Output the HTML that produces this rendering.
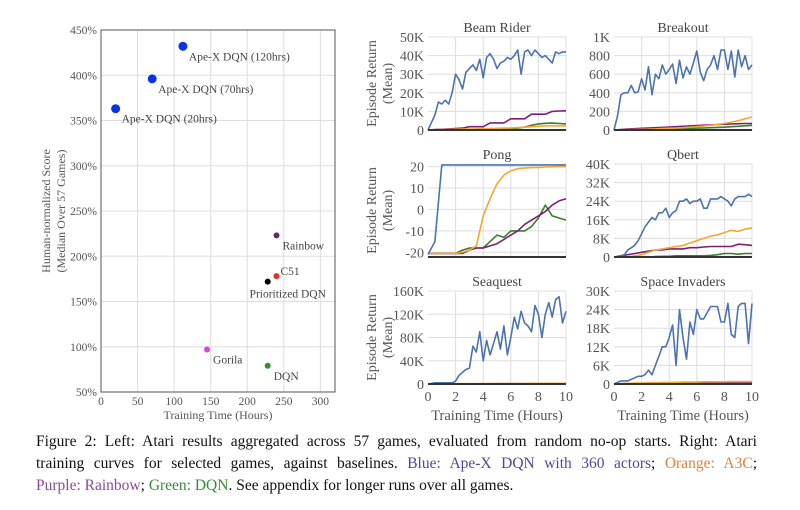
<!DOCTYPE html>
<html><head><meta charset="utf-8">
<style>
body{margin:0;background:#fff;width:800px;height:510px;overflow:hidden;font-family:"Liberation Serif",serif;}
#fig{position:absolute;left:0;top:0}
#cap{position:absolute;left:36px;top:431px;width:721px;font-size:15.5px;line-height:22px;color:#111;}
#cap div{text-align:justify;text-align-last:justify;white-space:nowrap;}
#cap div.last{text-align-last:left;}
</style></head><body>
<svg id="fig" width="800" height="430"></svg>
<div id="cap">
<div style="white-space:normal">Figure 2: Left: Atari results aggregated across 57 games, evaluated from random no-op starts. Right: Atari</div>
<div style="white-space:normal">training curves for selected games, against baselines. <span style="color:#4a4aa0">Blue: Ape-X DQN with 360 actors</span>; <span style="color:#e08040">Orange: A3C</span>;</div>
<div class="last"><span style="color:#8a4a9a">Purple: Rainbow</span>; <span style="color:#3a8a3a">Green: DQN</span>. See appendix for longer runs over all games.</div>
</div>
<script>
// ---- scatter data ----
const scatterNames=["Ape-X DQN (120hrs)","Ape-X DQN (70hrs)","Ape-X DQN (20hrs)","Rainbow","C51","Prioritized DQN","Gorila","DQN"];
const scatterHours=[112,70,20,240,240,228,145,228];
const scatterScores=[432,396,363,223,178,172,97,79];
const scatterColors=["#0a32e8","#0a32e8","#0a32e8","#6a2a6a","#e03030","#000","#e040e0","#3a8a3a"];
const xTicksL=[0,50,100,150,200,250,300];
const yTicksL=[50,100,150,200,250,300,350,400,450];
// ---- training curves data ----
const beamApex=[0,4,8,15,14,16,14,20,30,27,22,31,33,35,32,38,28,39,41,38,33,36,37,39,38,40,43,30,42,43,40,43,41,39,40,38,36,42,41,42,42];
const beamA3C=[0,0.1,0.2,0.3,0.4,0.5,0.5,0.6,0.7,0.8,0.9,1,1.1,1.3,1.5,1.7,2,2.2,2.3,2.2,2.2];
const beamRainbow=[0,0.2,0.4,0.6,0.8,1,1.8,1.8,1.8,3.8,3.8,3.8,6,6,6,8.5,8.5,8.5,10,10.2,10.3];
const beamDQN=[0,0,0,0,0,0,0.1,0.2,0.3,0.4,0.5,0.6,0.8,1,1.5,2.5,3.3,3.6,3.7,3.5,3.3];
const brkApex=[0,150,380,400,400,480,400,410,550,430,680,380,600,550,700,600,650,710,500,750,560,680,600,720,850,620,530,650,700,800,650,860,860,650,850,570,860,680,800,650,700];
const brkA3C=[0,2,3,5,7,9,12,15,18,22,25,30,35,42,50,60,70,85,100,120,140];
const brkRainbow=[0,5,10,14,18,22,25,28,32,36,40,44,48,52,55,58,62,65,68,70,70];
const brkDQN=[0,1,2,3,5,6,8,10,12,14,16,18,20,22,25,28,30,35,40,45,50];
const pongApex=[-21,-15,20.8,20.8,20.8,20.8,20.8,20.8,20.8,20.8,20.8,20.8,20.8,20.8,20.8,20.8,20.8,20.8,20.8,20.8,20.8];
const pongA3C=[-20.5,-20.5,-20.5,-20.5,-20.5,-20,-19,-17,-3,5,12,16,18,19,19.3,19.5,19.6,19.8,19.9,20,20];
const pongRainbow=[-20.5,-20.5,-20.5,-20.5,-20.5,-20.5,-19,-18,-18,-17,-16,-14,-12,-10,-7,-5,-3,-1,2,4,5];
const pongDQN=[-20.5,-20.5,-20.5,-20.5,-20.5,-19,-18,-18,-18,-15,-12,-13,-10,-10,-10,-8,-4,2,-3,-4,-5];
const qbApex=[0,0,0.5,1,3,4,5,7,10,13,15,17,16,19,19,21,17,19,20,24,24,25,23,24,24,25,21,21,25,25,25,26,25,24,22,25,26,26,26,27,26];
const qbA3C=[0,0,0,0.5,1,2,3,3.5,4,4.5,5,6,7,8,9,9.5,10.5,11.5,11,12,12.5];
const qbRainbow=[0,0.5,1,1.5,2,2.5,3,3,3.5,3.5,3.5,4,4,4.3,4.5,4.5,4.5,4.5,5.5,5.3,5];
const qbDQN=[0,0,0,0,0,0,0.2,0.3,0.3,0.5,0.5,0.5,0.5,0.5,0.7,1,1.5,1.5,1.2,1.5,1.5];
const seaApex=[0,1,2,2,2,2,2,2,5,15,20,25,27,65,55,90,40,75,50,70,90,60,100,50,80,115,95,125,105,100,90,135,120,80,120,140,115,145,150,105,125];
const seaA3C=[0,0.2,0.3,0.4,0.5,0.5,0.6,0.6,0.7,0.7,0.8,0.8,0.8,0.9,0.9,1,1,1,1,1,1];
const seaRainbow=[0,0.1,0.2,0.2,0.3,0.3,0.3,0.4,0.4,0.4,0.5,0.5,0.5,0.5,0.5,0.5,0.5,0.5,0.5,0.5,0.5];
const seaDQN=[0,0.1,0.1,0.1,0.2,0.2,0.2,0.2,0.2,0.3,0.3,0.3,0.3,0.3,0.3,0.3,0.3,0.3,0.3,0.3,0.3];
const siApex=[0,0.5,1,1,1,1.5,2,2.5,2.5,3,4.5,3,6,9,12,12,15,19,6,24,15,8,20,16,24,21,21,23,25,25,25,20,20,26,16,15,25,26,26,13,26];
const siA3C=[0,0.1,0.2,0.3,0.3,0.4,0.4,0.5,0.5,0.5,0.6,0.6,0.6,0.7,0.7,0.7,0.7,0.8,0.8,0.8,0.8];
const siRainbow=[0,0.1,0.1,0.2,0.2,0.2,0.3,0.3,0.3,0.3,0.3,0.3,0.3,0.3,0.3,0.3,0.3,0.3,0.3,0.3,0.3];
const siDQN=[0,0,0.1,0.1,0.1,0.1,0.2,0.2,0.2,0.2,0.2,0.2,0.2,0.2,0.2,0.2,0.2,0.2,0.2,0.2,0.2];

const NS="http://www.w3.org/2000/svg";
const svg=document.getElementById('fig');
function mk(tag,attrs,parent){const e=document.createElementNS(NS,tag);for(const k in attrs)e.setAttribute(k,attrs[k]);(parent||svg).appendChild(e);return e;}

// ---- left scatter ----
(function(){
  const L=101,R=335,T=30,B=392;
  const xs=v=>L+(v-0)/(320-0)*(R-L);
  const ys=v=>B-(v-50)/(450-50)*(B-T);
  const g=mk('g',{});
  
  
  xTicksL.forEach(t=>{
    const l=mk('line',{x1:xs(t),x2:xs(t),y1:T,y2:B,stroke:'#ddd','stroke-width':1},g);
    
    const tx=mk('text',{x:xs(t),y:B+13,'font-size':11.5,'text-anchor':'middle',fill:'#555'},g);
    tx.textContent=t;
    
  });
  yTicksL.forEach(t=>{
    const l=mk('line',{x1:L,x2:R,y1:ys(t),y2:ys(t),stroke:'#ddd','stroke-width':1},g);
    
    const tx=mk('text',{x:L-4,y:ys(t)+4,'font-size':11.5,'text-anchor':'end',fill:'#555'},g);
    tx.textContent=t+'%';
    
  });
  const fr=mk('rect',{x:L,y:T,width:R-L,height:B-T,fill:'none',stroke:'#555','stroke-width':1},g);
  
  scatterNames.forEach((n,i)=>{
    const big=i<3;
    const c=mk('circle',{cx:xs(scatterHours[i]),cy:ys(scatterScores[i]),r:big?4.5:3,fill:scatterColors[i]},g);
    
    
    let dx=6,dy=14,anc='start';
    if(n==='C51'){dx=4;dy=-1;}
    if(n==='Prioritized DQN'){dx=20;dy=16;anc='middle';}
    const tx=mk('text',{x:xs(scatterHours[i])+dx,y:ys(scatterScores[i])+dy,'font-size':11.5,fill:'#444','text-anchor':anc},g);
    tx.textContent=n;
    
  });
  const xl=mk('text',{x:(L+R)/2,y:B+27,'font-size':12,'text-anchor':'middle',fill:'#555'},g);
  xl.textContent='Training Time (Hours)';
  
  const yl=mk('text',{transform:`translate(50,${(T+B)/2}) rotate(-90)`,'font-size':12,'text-anchor':'middle',fill:'#555'},g);
  
  const t1=mk('tspan',{x:0,dy:0},yl);t1.textContent='Human-normalized Score';
  const t2=mk('tspan',{x:0,dy:15},yl);t2.textContent='(Median Over 57 Games)';
})();

// ---- small multiples ----
const colors={apex:'#4c72b0',a3c:'#f5a732',rainbow:'#7a1f7a',dqn:'#3b7d2a'};
function panel(title,L,T,ymin,ymax,ticks,tickLabels,series,showX,showY){
  const R=L+138,B=T+93;
  const xs=v=>L+v/10*(R-L);
  const ys=v=>B-(v-ymin)/(ymax-ymin)*(B-T);
  const g=mk('g',{});
  
  
  [2,4,6,8,10].forEach(t=>{
    const l=mk('line',{x1:xs(t),x2:xs(t),y1:T,y2:B,stroke:'#ddd'},g);
    
  });
  ticks.forEach((t,i)=>{
    const l=mk('line',{x1:L,x2:R,y1:ys(t),y2:ys(t),stroke:'#ddd'},g);
    
    const tx=mk('text',{x:L-4,y:ys(t)+5,'font-size':14,'text-anchor':'end',fill:'#555'},g);
    tx.textContent=tickLabels[i];
    
  });
  const tt=mk('text',{x:(L+R)/2,y:T-5,'font-size':14,'text-anchor':'middle',fill:'#444'},g);
  tt.textContent=title;
  
  const order=['dqn','rainbow','a3c','apex'];
  order.forEach(k=>{
    const arr=series[k];
    const pts=arr.map((v,i)=>xs(i*10/(arr.length-1)).toFixed(1)+','+ys(v).toFixed(1)).join(' ');
    const p=mk('polyline',{points:pts,fill:'none',stroke:colors[k],'stroke-width':1.6,'stroke-linejoin':'round'},g);
    
  });
  const ax=mk('line',{x1:L,x2:R,y1:B,y2:B,stroke:'#333','stroke-width':2},g);
  
  if(showX){
    [0,2,4,6,8,10].forEach(t=>{
      const tx=mk('text',{x:xs(t),y:B+17,'font-size':14,'text-anchor':'middle',fill:'#555'},g);
      tx.textContent=t;
      
    });
    const xl=mk('text',{x:(L+R)/2,y:B+36,'font-size':14.5,'text-anchor':'middle',fill:'#555'},g);
    xl.textContent='Training Time (Hours)';
    
  }
  if(showY){
    const yl=mk('text',{transform:`translate(376,${(T+B)/2}) rotate(-90)`,'font-size':14,'text-anchor':'middle',fill:'#555'},g);
    
    const a=mk('tspan',{x:0,dy:0},yl);a.textContent='Episode Return';
    const b=mk('tspan',{x:0,dy:16},yl);b.textContent='(Mean)';
  }
}
panel('Beam Rider',428,37,0,50,[0,10,20,30,40,50],['0','10K','20K','30K','40K','50K'],{apex:beamApex,a3c:beamA3C,rainbow:beamRainbow,dqn:beamDQN},false,true);
panel('Breakout',614,37,0,1000,[0,200,400,600,800,1000],['0','200','400','600','800','1K'],{apex:brkApex,a3c:brkA3C,rainbow:brkRainbow,dqn:brkDQN},false,false);
panel('Pong',428,164,-22.2,21.2,[-20,-10,0,10,20],['-20','-10','0','10','20'],{apex:pongApex,a3c:pongA3C,rainbow:pongRainbow,dqn:pongDQN},false,true);
panel('Qbert',614,164,0,40,[0,8,16,24,32,40],['0','8K','16K','24K','32K','40K'],{apex:qbApex,a3c:qbA3C,rainbow:qbRainbow,dqn:qbDQN},false,false);
panel('Seaquest',428,291,0,160,[0,40,80,120,160],['0','40K','80K','120K','160K'],{apex:seaApex,a3c:seaA3C,rainbow:seaRainbow,dqn:seaDQN},true,true);
panel('Space Invaders',614,291,0,30,[0,6,12,18,24,30],['0','6K','12K','18K','24K','30K'],{apex:siApex,a3c:siA3C,rainbow:siRainbow,dqn:siDQN},true,false);
</script>
</body></html>
